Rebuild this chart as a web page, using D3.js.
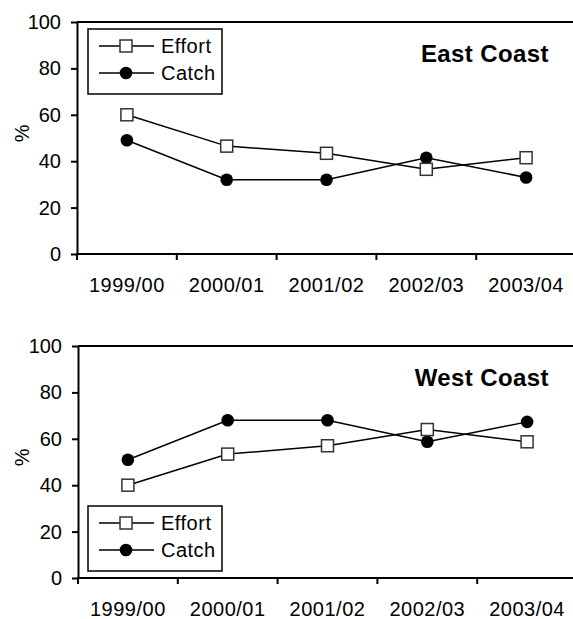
<!DOCTYPE html>
<html lang="en">
<head>
    <meta charset="UTF-8">
    <title>East / West Coast</title>
    <script src="https://cdn.jsdelivr.net/npm/d3@7"></script>
    <style>
        body { margin: 0; background: #fff; }
        svg text { font-family: "Liberation Sans", Arial, sans-serif; fill: #000; }
    </style>
</head>
<body>
<div id="chart"></div>
<script>
    // seasons on the x axis
    const seasons = ["1999/00", "2000/01", "2001/02", "2002/03", "2003/04"];
    const yTicks = [0, 20, 40, 60, 80, 100];
    const seriesNames = ["Effort", "Catch"];

    // values (%)
    const eastEffort = [60, 46.5, 43.4, 36.5, 41.5];
    const eastCatch = [49, 32, 32, 41.5, 33];
    const westEffort = [40, 53.4, 57, 64, 58.7];
    const westCatch = [51, 68, 68, 58.7, 67.3];

    const width = 573, height = 619;

    const svg = d3.select('#chart')
        .append('svg')
        .attr('width', width)
        .attr('height', height);

    // one panel per coast
    const panels = [
        {title: 'East Coast', effort: eastEffort, catch: eastCatch, top: 22, bottom: 254, left: 77, legendY: 29},
        {title: 'West Coast', effort: westEffort, catch: westCatch, top: 346, bottom: 578, left: 78, legendY: 506}
    ];

    panels.forEach(function (p) {
        let x = d3.scaleBand().domain(seasons).range([p.left, p.left + 5 * 99.8]).paddingInner(0).paddingOuter(0);
        let y = d3.scaleLinear().domain([0, 100]).range([p.bottom, p.top]);
        let g = svg.append('g');

        // top frame line
        g.append('line')
            .attr('x1', p.left).attr('x2', width + 5)
            .attr('y1', y(100)).attr('y2', y(100))
            .attr('stroke', '#000').attr('stroke-width', 2);

        // y axis
        let yAxis = g.append('g')
            .attr('transform', 'translate(' + p.left + ',0)')
            .call(d3.axisLeft(y).tickValues(yTicks).tickSize(6).tickSizeOuter(0).tickPadding(10));
        yAxis.selectAll('path, line').attr('stroke', '#000').attr('stroke-width', 2);
        yAxis.selectAll('text')
            .attr('font-size', 20)
            .style('font-family', '"Liberation Sans", Arial, sans-serif');

        // x axis: line plus ticks at the band edges, labels centred in bands
        g.append('line')
            .attr('x1', p.left - 1).attr('x2', width + 5)
            .attr('y1', p.bottom).attr('y2', p.bottom)
            .attr('stroke', '#000').attr('stroke-width', 2);
        g.selectAll('.xtick')
            .data(seasons)
            .join('line')
            .attr('x1', d => x(d)).attr('x2', d => x(d))
            .attr('y1', p.bottom).attr('y2', p.bottom + 6)
            .attr('stroke', '#000').attr('stroke-width', 2);
        g.selectAll('.xlabel')
            .data(seasons)
            .join('text')
            .attr('x', d => x(d) + x.bandwidth() / 2)
            .attr('y', p.bottom + 38)
            .attr('text-anchor', 'middle')
            .attr('font-size', 20)
            .attr('letter-spacing', 0.5)
            .text(d => d);

        // y axis title
        g.append('text')
            .attr('transform', 'translate(29,' + (p.top + 0.48 * (p.bottom - p.top)) + ') rotate(-90)')
            .attr('text-anchor', 'middle')
            .attr('font-size', 20)
            .text('%');

        // panel title
        g.append('text')
            .attr('x', 549)
            .attr('y', p.top + 40)
            .attr('text-anchor', 'end')
            .attr('font-size', 24)
            .attr('font-weight', 'bold')
            .attr('letter-spacing', 0.4)
            .text(p.title);

        let line = d3.line()
            .x((d, i) => x(seasons[i]) + x.bandwidth() / 2)
            .y(d => y(d));

        // effort
        g.append('path').datum(p.effort)
            .attr('d', line).attr('fill', 'none')
            .attr('stroke', '#000').attr('stroke-width', 1.5);
        // catch
        g.append('path').datum(p.catch)
            .attr('d', line).attr('fill', 'none')
            .attr('stroke', '#000').attr('stroke-width', 1.5);

        g.selectAll('.catchDot')
            .data(p.catch)
            .join('circle')
            .attr('cx', (d, i) => x(seasons[i]) + x.bandwidth() / 2)
            .attr('cy', d => y(d))
            .attr('r', 6.3)
            .attr('fill', '#000');

        g.selectAll('.effortBox')
            .data(p.effort)
            .join('rect')
            .attr('x', (d, i) => x(seasons[i]) + x.bandwidth() / 2 - 6)
            .attr('y', d => y(d) - 6)
            .attr('width', 12).attr('height', 12)
            .attr('fill', '#fff')
            .attr('stroke', '#333').attr('stroke-width', 1.5);

        // legend
        let lg = g.append('g').attr('transform', 'translate(88,' + p.legendY + ')');
        lg.append('rect')
            .attr('width', 134).attr('height', 65)
            .attr('fill', '#fff')
            .attr('stroke', '#000').attr('stroke-width', 1.5);
        seriesNames.forEach(function (name, i) {
            let ly = 17 + i * 27;
            lg.append('line')
                .attr('x1', 11).attr('x2', 66)
                .attr('y1', ly).attr('y2', ly)
                .attr('stroke', '#000').attr('stroke-width', 1.5);
            if (name == 'Effort') {
                lg.append('rect')
                    .attr('x', 32).attr('y', ly - 6)
                    .attr('width', 12).attr('height', 12)
                    .attr('fill', '#fff')
                    .attr('stroke', '#333').attr('stroke-width', 1.5);
            } else {
                lg.append('circle')
                    .attr('cx', 38).attr('cy', ly)
                    .attr('r', 6.3).attr('fill', '#000');
            }
            lg.append('text')
                .attr('x', 73).attr('y', ly + 7)
                .attr('font-size', 20)
                .attr('letter-spacing', 0.5)
                .text(name);
        });
    });
</script>
</body>
</html>
